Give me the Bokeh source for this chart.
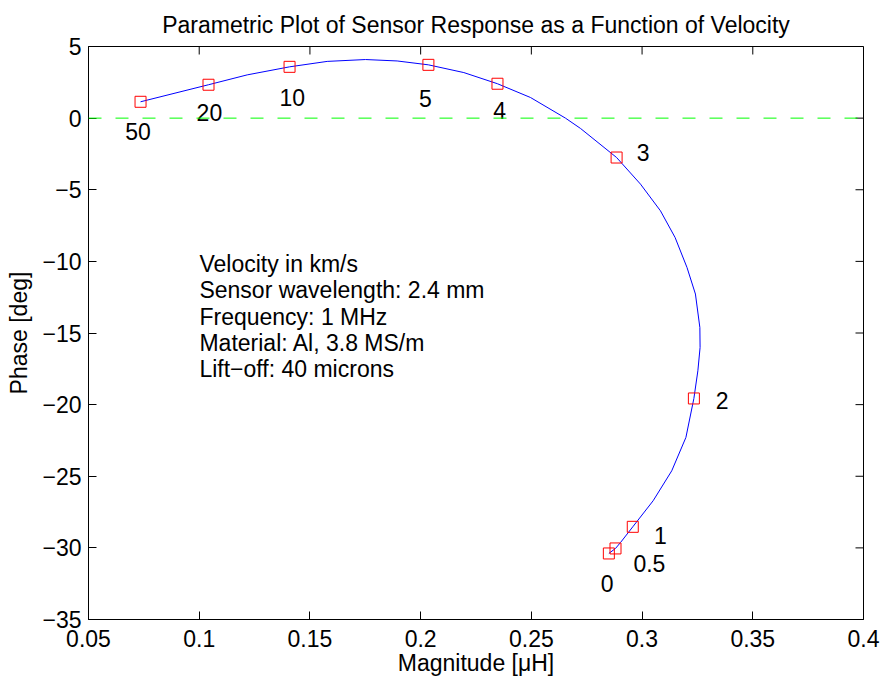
import math
from bokeh.plotting import figure
from bokeh.models import Range1d, FixedTicker, Span, Label, ColumnDataSource
from bokeh.core.properties import value
from bokeh.embed import file_html
from bokeh.resources import INLINE

FONT = "Liberation Sans"
FS = "23px"

# Sensor response curve (velocity increasing from 0 to 50 km/s)
curve_mag = [0.2850, 0.2880, 0.2903, 0.2958, 0.3050, 0.3134, 0.3198, 0.3234,
             0.3252, 0.3262, 0.3261, 0.3241, 0.3203, 0.3149, 0.3083, 0.2993,
             0.2885, 0.2722, 0.2654, 0.2496, 0.2347, 0.2195, 0.2035, 0.1894,
             0.1751, 0.1578, 0.1408, 0.1217, 0.1042, 0.0735]
curve_phase = [-30.39, -30.04, -29.62, -28.53, -26.71, -24.62, -22.29, -19.57,
               -17.64, -16.01, -14.62, -12.28, -10.43, -8.33, -6.47, -4.61,
               -2.75, -0.72, 0.00, 1.44, 2.40, 3.18, 3.72, 3.99,
               4.09, 3.96, 3.58, 3.02, 2.33, 1.14]

# Marked velocities
velocity = ["0", "0.5", "1", "2", "3", "4", "5", "10", "20", "50"]
marker_mag = [0.2850, 0.2880, 0.2958, 0.3234, 0.2885, 0.2347, 0.2035, 0.1408, 0.1042, 0.0735]
marker_phase = [-30.39, -30.04, -28.53, -19.57, -2.75, 2.40, 3.72, 3.58, 2.33, 1.14]
label_mag = [0.2842, 0.3033, 0.3083, 0.3362, 0.3005, 0.2357, 0.2021, 0.1420, 0.1046, 0.0724]
label_phase = [-32.49, -31.09, -29.11, -19.68, -2.40, 0.51, 1.40, 1.44, 0.39, -0.95]

x_ticks = [0.05, 0.1, 0.15, 0.2, 0.25, 0.3, 0.35, 0.4]
x_tick_labels = ["0.05", "0.1", "0.15", "0.2", "0.25", "0.3", "0.35", "0.4"]
y_ticks = [-35, -30, -25, -20, -15, -10, -5, 0, 5]
y_tick_labels = ["\u221235", "\u221230", "\u221225", "\u221220", "\u221215",
                 "\u221210", "\u22125", "0", "5"]

info_lines = ["Velocity in km/s", "Sensor wavelength: 2.4 mm", "Frequency: 1 MHz",
              "Material: Al, 3.8 MS/m", "Lift\u2212off: 40 microns"]

X_MIN, X_MAX = 0.05, 0.4
Y_MIN, Y_MAX = -35, 5

p = figure(width=881, height=682, output_backend="svg", toolbar_location=None,
           x_range=Range1d(X_MIN, X_MAX), y_range=Range1d(Y_MIN, Y_MAX),
           min_border_left=88, min_border_right=18, min_border_top=46, min_border_bottom=63,
           x_axis_label="Magnitude [\u03bcH]", y_axis_label="Phase [deg]")

p.title.text = "Parametric Plot of Sensor Response as a Function of Velocity"
p.title.text_font = FONT
p.title.text_font_size = FS
p.title.text_font_style = "normal"
p.title.text_color = "black"
p.title.align = "center"
p.title.standoff = 17

p.xgrid.visible = False
p.ygrid.visible = False
p.outline_line_color = "black"
p.outline_line_width = 1
p.background_fill_color = "white"
p.border_fill_color = "white"


def style_axis(ax, ticks, labels):
    ax.ticker = FixedTicker(ticks=ticks)
    ax.major_label_overrides = {t: l for t, l in zip(ticks, labels)}
    ax.major_tick_in = 8
    ax.major_tick_out = 0
    ax.minor_tick_line_color = None
    ax.axis_line_color = "black"
    ax.major_tick_line_color = "black"
    ax.major_label_text_font = FONT
    ax.major_label_text_font_size = FS
    ax.major_label_text_color = "black"
    ax.axis_label_text_font = FONT
    ax.axis_label_text_font_size = FS
    ax.axis_label_text_font_style = "normal"
    ax.axis_label_text_color = "black"


xa = p.xaxis[0]
ya = p.yaxis[0]
style_axis(xa, x_ticks, x_tick_labels)
style_axis(ya, y_ticks, y_tick_labels)
xa.major_label_standoff = 10
xa.axis_label_standoff = 0
ya.major_label_standoff = 7
ya.axis_label_standoff = 7

# inward ticks on top and right edges of the box
p.ray(x=x_ticks, y=[Y_MAX] * len(x_ticks), length=8, length_units="screen",
      angle=-math.pi / 2, line_color="black", line_width=1)
p.ray(x=[X_MAX] * len(y_ticks), y=y_ticks, length=8, length_units="screen",
      angle=math.pi, line_color="black", line_width=1)

p.add_layout(Span(location=0, dimension="width", line_color="#00ff00",
                  line_width=1, line_dash="13 14"))

p.line(curve_mag, curve_phase, line_color="#0000ff", line_width=1)
p.scatter(marker_mag, marker_phase, marker="square", size=11, fill_color=None,
          line_color="#ff0000", line_width=1)

src = ColumnDataSource(dict(x=label_mag, y=label_phase, t=velocity))
p.text(x="x", y="y", text="t", source=src, text_font=value(FONT), text_font_size=FS,
       text_align="center", text_baseline="middle", text_color="black")

for i, line in enumerate(info_lines):
    p.add_layout(Label(x=0.1001, y=-10.19, y_offset=-26.3 * i, text=line,
                       text_font=FONT, text_font_size=FS, text_baseline="middle",
                       text_align="left", text_color="black"))

open("out.html", "w").write(file_html(p, INLINE))
